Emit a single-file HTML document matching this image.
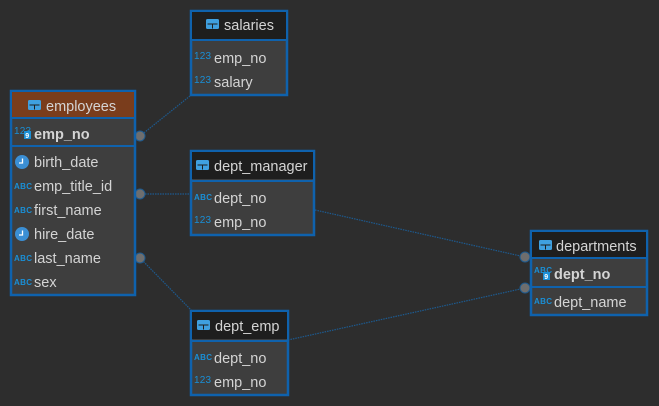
<!DOCTYPE html>
<html><head><meta charset="utf-8"><style>
html,body{margin:0;padding:0;background:#2d2d2d;}
svg{display:block;font-family:"Liberation Sans","DejaVu Sans",sans-serif;}
.t{fill:#d4d4d4;font-size:14.5px;}
.b{font-weight:bold;}
.i{fill:#1a8fd6;font-size:8px;font-weight:bold;}
.n{fill:#1a8fd6;font-size:10px;}
</style></head><body>
<svg width="659" height="406" viewBox="0 0 659 406">
<defs>
<g id="tb"><rect x="0" y="0" width="13" height="10" rx="1.5" fill="#3fa0e0"/><rect x="1.5" y="4.5" width="10" height="1" fill="#1e1e1e"/><rect x="6" y="4.5" width="1" height="5" fill="#1e1e1e"/></g>
<g id="clk"><circle cx="7" cy="7" r="7" fill="#3b8fd4"/><path d="M7.5 3.5 V8 H4" stroke="#fff" stroke-width="1.3" fill="none"/></g>
<g id="key"><rect x="0" y="0" width="7" height="8" fill="#1a8fd6"/><text x="1.2" y="7" font-size="7" fill="#fff" font-weight="bold">9</text></g>
</defs>
<g stroke="#1d5a8f" stroke-width="1.2" stroke-dasharray="1.5,1" fill="none">
<line x1="140" y1="136" x2="190" y2="96"/>
<line x1="140" y1="194" x2="190" y2="194"/>
<line x1="140" y1="258" x2="192" y2="311"/>
<line x1="315" y1="210" x2="525" y2="257"/>
<line x1="288" y1="340" x2="525" y2="288"/>
</g>
<g fill="#6e6e6e" stroke="#1d5a8f" stroke-width="1">
<circle cx="140" cy="136" r="5"/><circle cx="140" cy="194" r="5"/><circle cx="140" cy="258" r="5"/>
<circle cx="525" cy="257" r="5"/><circle cx="525" cy="288" r="5"/>
</g>

<rect x="11" y="91" width="124" height="204" fill="#3e3e3e" stroke="#0f62ad" stroke-width="2.5"/>
<rect x="12" y="92" width="122" height="26" fill="#7a3d1c"/>
<line x1="11" y1="118" x2="135" y2="118" stroke="#0f62ad" stroke-width="2"/>
<line x1="11" y1="146" x2="135" y2="146" stroke="#0f62ad" stroke-width="2"/>
<use href="#tb" x="28" y="100"/><text class="t" x="46" y="111">employees</text>
<text class="n" x="14" y="134" textLength="17">123</text><use href="#key" x="24" y="131"/><text class="t b" x="34" y="139">emp_no</text>
<use href="#clk" x="15" y="155"/><text class="t" x="34" y="167">birth_date</text>
<text class="i" x="14" y="189" textLength="18">ABC</text><text class="t" x="34" y="191">emp_title_id</text>
<text class="i" x="14" y="213" textLength="18">ABC</text><text class="t" x="34" y="215">first_name</text>
<use href="#clk" x="15" y="227"/><text class="t" x="34" y="239">hire_date</text>
<text class="i" x="14" y="261" textLength="18">ABC</text><text class="t" x="34" y="263">last_name</text>
<text class="i" x="14" y="285" textLength="18">ABC</text><text class="t" x="34" y="287">sex</text>

<rect x="191" y="11" width="96" height="84" fill="#3e3e3e" stroke="#0f62ad" stroke-width="2.5"/>
<rect x="192" y="12" width="94" height="27" fill="#1e1e1e"/>
<line x1="191" y1="40" x2="287" y2="40" stroke="#0f62ad" stroke-width="2"/>
<use href="#tb" x="206" y="19"/><text class="t" x="224" y="30">salaries</text>
<text class="n" x="194" y="59" textLength="17">123</text><text class="t" x="214" y="63">emp_no</text>
<text class="n" x="194" y="83" textLength="17">123</text><text class="t" x="214" y="87">salary</text>

<rect x="191" y="151" width="123" height="84" fill="#3e3e3e" stroke="#0f62ad" stroke-width="2.5"/>
<rect x="192" y="152" width="121" height="27" fill="#1e1e1e"/>
<line x1="191" y1="181" x2="314" y2="181" stroke="#0f62ad" stroke-width="2"/>
<use href="#tb" x="196" y="160"/><text class="t" x="214" y="171">dept_manager</text>
<text class="i" x="194" y="200" textLength="18">ABC</text><text class="t" x="214" y="203">dept_no</text>
<text class="n" x="194" y="223" textLength="17">123</text><text class="t" x="214" y="227">emp_no</text>

<rect x="191" y="311" width="97" height="84" fill="#3e3e3e" stroke="#0f62ad" stroke-width="2.5"/>
<rect x="192" y="312" width="95" height="27" fill="#1e1e1e"/>
<line x1="191" y1="341" x2="288" y2="341" stroke="#0f62ad" stroke-width="2"/>
<use href="#tb" x="197" y="320"/><text class="t" x="215" y="331">dept_emp</text>
<text class="i" x="194" y="360" textLength="18">ABC</text><text class="t" x="214" y="363">dept_no</text>
<text class="n" x="194" y="383" textLength="17">123</text><text class="t" x="214" y="387">emp_no</text>

<rect x="531" y="231" width="116" height="84" fill="#3e3e3e" stroke="#0f62ad" stroke-width="2.5"/>
<rect x="532" y="232" width="114" height="26" fill="#1e1e1e"/>
<line x1="531" y1="258" x2="647" y2="258" stroke="#0f62ad" stroke-width="2"/>
<line x1="531" y1="287" x2="647" y2="287" stroke="#0f62ad" stroke-width="2"/>
<use href="#tb" x="539" y="240"/><text class="t" x="556" y="251">departments</text>
<text class="i" x="534" y="273" textLength="18">ABC</text><use href="#key" x="543" y="272"/><text class="t b" x="554" y="279">dept_no</text>
<text class="i" x="534" y="304" textLength="18">ABC</text><text class="t" x="554" y="307">dept_name</text>
</svg>
</body></html>
